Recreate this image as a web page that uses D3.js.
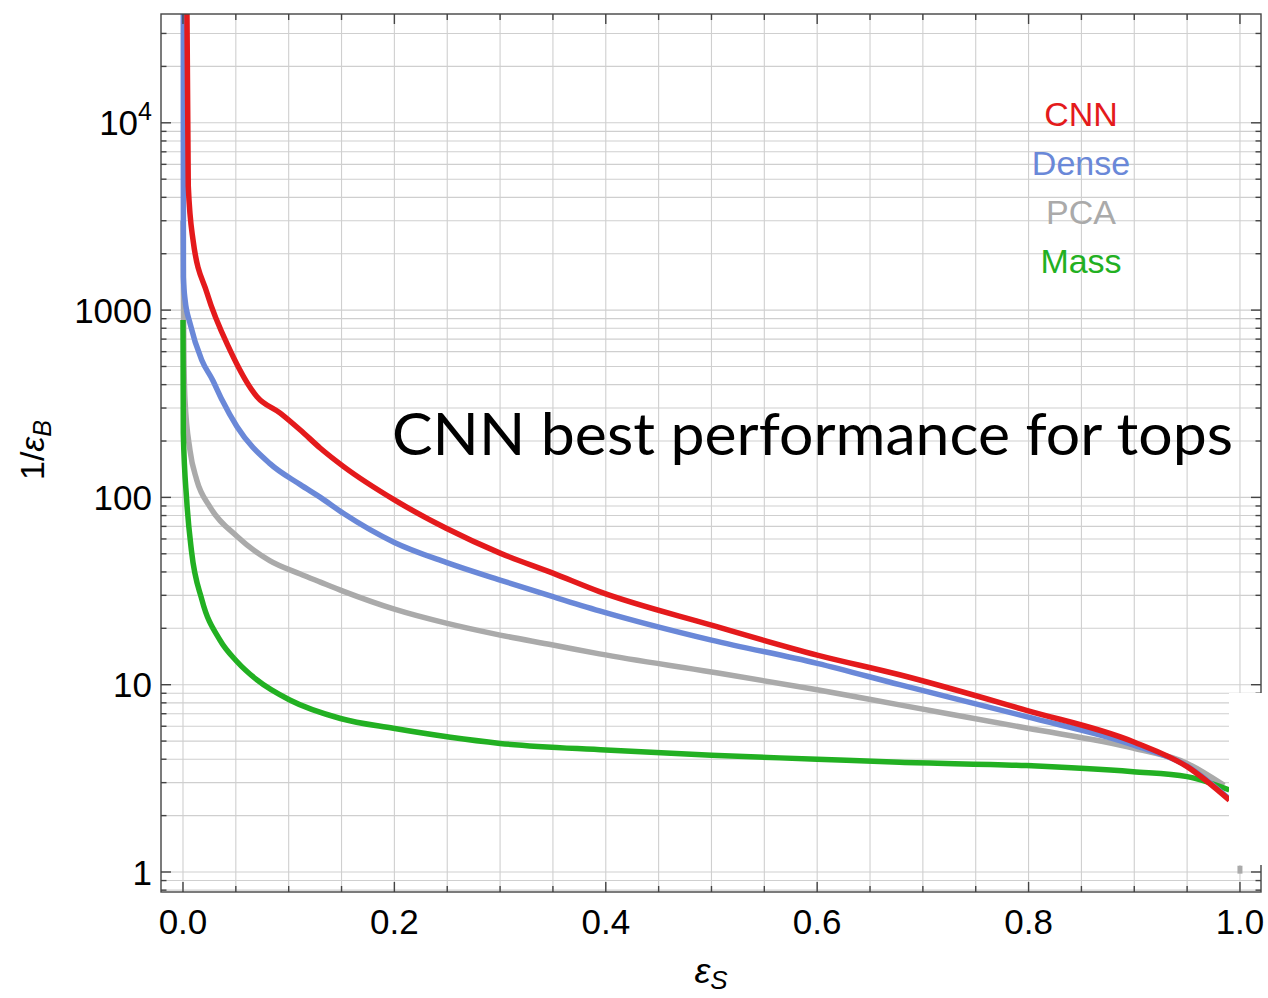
<!DOCTYPE html>
<html>
<head>
<meta charset="utf-8">
<script src="https://cdn.jsdelivr.net/npm/d3@7"></script>
<style>
  html, body { margin: 0; padding: 0; background: #fff; }
  svg { display: block; }
</style>
</head>
<body>
<svg id="chart" width="1268" height="998"></svg>
<script>
// ---- data ----
const seriesNames = ["CNN", "Dense", "PCA", "Mass"];
const seriesColors = ["#e41a1c", "#6a88d8", "#aaaaaa", "#22b022"];

// [signal efficiency eps_S, background rejection 1/eps_B]
const cnnData = [
  [0.0035, 60000], [0.005, 4600], [0.0095, 2370], [0.0227, 1234], [0.0445, 612],
  [0.07, 345], [0.092, 282], [0.111, 229], [0.13, 183], [0.152, 146], [0.2, 97],
  [0.249, 68.4], [0.3, 50.4], [0.35, 39.4], [0.394, 31.4], [0.5, 20.8], [0.6, 14.4],
  [0.678, 11.3], [0.798, 7.3], [0.899, 4.96], [0.95, 3.65], [0.99, 2.42]
];
const denseData = [
  [0.0003, 60000], [0.0004, 1500], [0.002, 1130], [0.0066, 853], [0.0177, 542],
  [0.028, 424], [0.037, 331], [0.051, 239], [0.082, 152], [0.111, 117], [0.13, 100],
  [0.152, 82], [0.2, 57.5], [0.249, 45], [0.3, 36.2], [0.35, 29.5], [0.394, 24.8],
  [0.5, 17.3], [0.6, 13.0], [0.678, 10.0], [0.798, 6.75], [0.899, 4.77],
  [0.95, 3.68], [0.99, 2.45]
];
const pcaData = [
  [0.0, 3000], [0.0008, 600], [0.0019, 331], [0.0066, 179], [0.013, 124],
  [0.0255, 89], [0.051, 62], [0.082, 46], [0.111, 39], [0.13, 35.3], [0.152, 31.5],
  [0.2, 25.3], [0.249, 21.3], [0.3, 18.4], [0.35, 16.3], [0.394, 14.6], [0.5, 11.7],
  [0.6, 9.4], [0.678, 7.8], [0.798, 5.87], [0.899, 4.59], [0.95, 3.8], [0.985, 2.9]
];
const pcaTail = [[1.0, 0.98], [1.0, 1.08]];
const massData = [
  [0.0, 886], [0.0003, 221], [0.0035, 97], [0.008, 52], [0.018, 28.3],
  [0.035, 17.3], [0.051, 13.3], [0.07, 10.6], [0.101, 8.28], [0.149, 6.6],
  [0.199, 5.85], [0.3, 4.86], [0.4, 4.48], [0.5, 4.2], [0.6, 4.0], [0.678, 3.85],
  [0.798, 3.7], [0.899, 3.43], [0.95, 3.23], [0.99, 2.74]
];

const xMajorTicks = [0.0, 0.2, 0.4, 0.6, 0.8, 1.0];
const xTickLabels = ["0.0", "0.2", "0.4", "0.6", "0.8", "1.0"];
const yMajorTicks = [1, 10, 100, 1000, 10000];
const yTickLabels = ["1", "10", "100", "1000", "10^4"];
const titleText = "CNN best performance for tops";

// ---- layout ----
const svg = d3.select("#chart");
const L = 161, R = 1261, T = 14, B = 892;
const x = d3.scaleLinear().domain([-0.0208, 1.0199]).range([L, R]);
const y = d3.scaleLog().domain([0.782, 38100]).range([B, T]);

// minor tick values
const xMinor = d3.range(0, 21).map(i => +(i * 0.05).toFixed(2));
const yMinor = [];
for (let e = -1; e <= 4; e++) {
  for (let k = 1; k <= 9; k++) {
    const v = k * Math.pow(10, e);
    if (v >= 0.782 && v <= 38100) yMinor.push(v);
  }
}

// grid
const grid = svg.append("g");
grid.selectAll("line.gx").data(xMinor).join("line")
  .attr("x1", d => x(d)).attr("x2", d => x(d))
  .attr("y1", T).attr("y2", B)
  .attr("stroke", "#cfcfcf").attr("stroke-width", 1.1);
grid.selectAll("line.gy").data(yMinor).join("line")
  .attr("x1", L).attr("x2", R)
  .attr("y1", d => y(d)).attr("y2", d => y(d))
  .attr("stroke", "#cfcfcf").attr("stroke-width", 1.1);

// curves
svg.append("clipPath").attr("id", "plotclip")
  .append("rect").attr("x", L).attr("y", T).attr("width", R - L).attr("height", B - T);
const line = d3.line().x(d => x(d[0])).y(d => y(d[1])).curve(d3.curveMonotoneX);
const curves = svg.append("g").attr("clip-path", "url(#plotclip)");
const drawOrder = [[pcaData, 2], [massData, 3], [denseData, 1], [cnnData, 0]];
drawOrder.forEach(([data, i]) => {
  curves.append("path").datum(data)
    .attr("d", line)
    .attr("fill", "none")
    .attr("stroke", seriesColors[i])
    .attr("stroke-width", 5.5)
    .attr("stroke-linejoin", "round");
});

// frame + ticks
const frame = svg.append("g");
frame.append("rect").attr("x", L).attr("y", T).attr("width", R - L).attr("height", B - T)
  .attr("fill", "none").attr("stroke", "#444").attr("stroke-width", 1.4);
const xMajorSet = new Set(xMajorTicks.map(v => v.toFixed(2)));
xMinor.forEach(v => {
  const len = xMajorSet.has(v.toFixed(2)) ? 10 : 6;
  frame.append("line").attr("x1", x(v)).attr("x2", x(v)).attr("y1", B).attr("y2", B - len)
    .attr("stroke", "#444").attr("stroke-width", 1.4);
  frame.append("line").attr("x1", x(v)).attr("x2", x(v)).attr("y1", T).attr("y2", T + len)
    .attr("stroke", "#444").attr("stroke-width", 1.4);
});
yMinor.forEach(v => {
  const isMajor = yMajorTicks.some(m => Math.abs(m - v) < 1e-9 * m + 1e-12);
  const len = isMajor ? 10 : 5.5;
  frame.append("line").attr("x1", L).attr("x2", L + len).attr("y1", y(v)).attr("y2", y(v))
    .attr("stroke", "#444").attr("stroke-width", 1.4);
  frame.append("line").attr("x1", R).attr("x2", R - len).attr("y1", y(v)).attr("y2", y(v))
    .attr("stroke", "#444").attr("stroke-width", 1.4);
});

// white patch at lower right (as in reference)
svg.append("rect").attr("x", 1229).attr("y", 693).attr("width", 36).attr("height", 172)
  .attr("fill", "#fff");
svg.append("path").datum(pcaTail).attr("d", d3.line().x(d => x(d[0])).y(d => y(d[1])))
  .attr("stroke", seriesColors[2]).attr("stroke-width", 5).attr("fill", "none");

// tick labels
const font = "'Liberation Sans', Arial, sans-serif";
const xl = svg.append("g").attr("font-family", font).attr("font-size", 35).attr("fill", "#000");
xMajorTicks.forEach((v, i) => {
  xl.append("text").attr("x", x(v)).attr("y", 934).attr("text-anchor", "middle").text(xTickLabels[i]);
});
const yl = svg.append("g").attr("font-family", font).attr("font-size", 35).attr("fill", "#000");
yMajorTicks.forEach((v, i) => {
  const t = yl.append("text").attr("x", 152).attr("y", y(v)).attr("dy", "0.36em").attr("text-anchor", "end");
  const lab = yTickLabels[i];
  if (lab.includes("^")) {
    const [base, exp] = lab.split("^");
    t.append("tspan").text(base);
    t.append("tspan").attr("font-size", 25).attr("dy", "-0.6em").text(exp);
  } else {
    t.text(lab);
  }
});

// axis titles
const yt = svg.append("text").attr("font-family", font).attr("font-size", 34)
  .attr("transform", "translate(44,450) rotate(-90)").attr("text-anchor", "middle");
yt.append("tspan").text("1/");
yt.append("tspan").attr("font-style", "italic").text("\u03B5");
yt.append("tspan").attr("font-style", "italic").attr("font-size", 25).attr("dy", 7).text("B");

const xt = svg.append("text").attr("font-family", font).attr("font-size", 36)
  .attr("x", 711).attr("y", 983).attr("text-anchor", "middle");
xt.append("tspan").attr("font-style", "italic").text("\u03B5");
xt.append("tspan").attr("font-style", "italic").attr("font-size", 26).attr("dy", 6).text("S");

// legend
const legendY = [126, 175, 224, 273];
seriesNames.forEach((n, i) => {
  svg.append("text").attr("font-family", font).attr("font-size", 34)
    .attr("x", 1081).attr("y", legendY[i]).attr("text-anchor", "middle")
    .attr("fill", seriesColors[i]).text(n);
});

// big annotation
svg.append("text").attr("font-family", "Lato, 'Open Sans', sans-serif").attr("font-size", 58)
  .attr("x", 392).attr("y", 455).attr("textLength", 841).attr("lengthAdjust", "spacingAndGlyphs")
  .attr("fill", "#000").text(titleText);
</script>
</body>
</html>
